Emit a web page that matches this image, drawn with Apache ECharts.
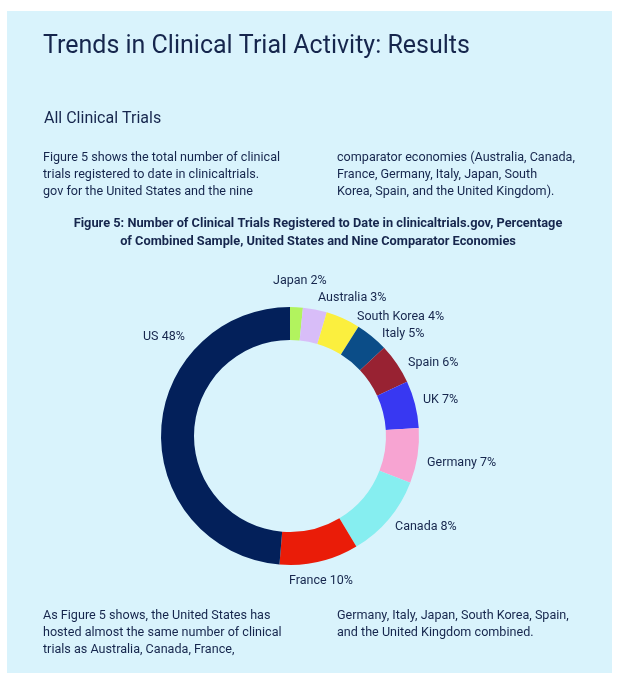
<!DOCTYPE html>
<html>
<head>
<meta charset="utf-8">
<script src="https://cdn.jsdelivr.net/npm/echarts@6/dist/echarts.min.js"></script>
<style>
html,body{margin:0;padding:0;background:#ffffff;}
#chart{width:617px;height:680px;}
</style>
</head>
<body>
<div id="chart"></div>
<script>
// ---- data ----
var countries = ['Japan', 'Australia', 'South Korea', 'Italy', 'Spain', 'UK', 'Germany', 'Canada', 'France', 'US'];
var pctLabels = ['2%', '3%', '4%', '5%', '6%', '7%', '7%', '8%', '10%', '48%'];
// slice shares as drawn in the picture (angular share of the ring)
var sliceShares = [1.6, 3.0, 4.3, 4.1, 5.1, 5.9, 6.9, 10.5, 9.9, 48.7];

var titleText = 'Trends in Clinical Trial Activity: Results';
var subTitle = 'All Clinical Trials';
var introLeft = ['Figure 5 shows the total number of clinical', 'trials registered to date in clinicaltrials.', 'gov for the United States and the nine'];
var introRight = ['comparator economies (Australia, Canada,', 'France, Germany, Italy, Japan, South', 'Korea, Spain, and the United Kingdom).'];
var captionLines = ['Figure 5: Number of Clinical Trials Registered to Date in clinicaltrials.gov, Percentage', 'of Combined Sample, United States and Nine Comparator Economies'];
var outroLeft = ['As Figure 5 shows, the United States has', 'hosted almost the same number of clinical', 'trials as Australia, Canada, France,'];
var outroRight = ['Germany, Italy, Japan, South Korea, Spain,', 'and the United Kingdom combined.'];

// ---- styles ----
var colors = ['#b2f35e', '#d8bdf8', '#fbef3e', '#0b4d88', '#982232', '#3838f2', '#f7a4d2', '#86eef0', '#ea1c08', '#03205a'];
var ink = '#16264d';
var fontFam = 'Roboto, "Noto Sans", sans-serif';
var CX = 290, CY = 436;
// label anchor offsets (left edge, vertical middle) from ring centre
var labelOffsets = [[-17,-155],[28,-138],[67,-119],[92,-102],[118,-73],[133,-36],[137,27],[105,91],[-1,145],[-147,-99]];

var chart = echarts.init(document.getElementById('chart'), null, {renderer: 'canvas'});

var pieData = countries.map(function (c, i) {
  return {name: c, value: sliceShares[i], itemStyle: {color: colors[i]}};
});

var graphics = [{
  type: 'rect', z: -10, silent: true,
  shape: {x: 7, y: 11, width: 605, height: 662},
  style: {fill: '#d9f3fc'}
}];
function addLines(lines, x, y0, lh, font, align) {
  lines.forEach(function (t, i) {
    graphics.push({
      type: 'text', silent: true,
      style: {text: t, x: x, y: y0 + i * lh, font: font, fill: ink, textAlign: align || 'left', textVerticalAlign: 'middle'}
    });
  });
}
addLines([titleText], 43, 47, 0, '400 25px ' + fontFam);
addLines([subTitle], 44, 119, 0, '400 16px ' + fontFam);
addLines(introLeft, 43, 158, 17, '400 12.6px ' + fontFam);
addLines(introRight, 337, 158, 17, '400 12.6px ' + fontFam);
addLines(captionLines, 318, 224, 18, '700 12.8px ' + fontFam, 'center');
addLines(outroLeft, 43, 616, 17, '400 12.6px ' + fontFam);
addLines(outroRight, 337, 616, 17, '400 12.6px ' + fontFam);

chart.setOption({
  animation: false,
  backgroundColor: '#ffffff',
  graphic: graphics,
  series: [{
    type: 'pie',
    center: [CX, CY],
    radius: [96, 129],
    startAngle: 90,
    clockwise: true,
    avoidLabelOverlap: false,
    data: pieData,
    itemStyle: {borderWidth: 0},
    label: {
      show: true,
      position: 'outside',
      color: ink,
      fontFamily: fontFam,
      fontSize: 12.5,
      formatter: function (p) { return p.name + ' ' + pctLabels[p.dataIndex]; }
    },
    labelLine: {show: false},
    labelLayout: function (params) {
      var o = labelOffsets[params.dataIndex];
      return {x: CX + o[0], y: CY + o[1], align: 'left', verticalAlign: 'middle'};
    },
    emphasis: {disabled: true}
  }]
});
</script>
</body>
</html>
